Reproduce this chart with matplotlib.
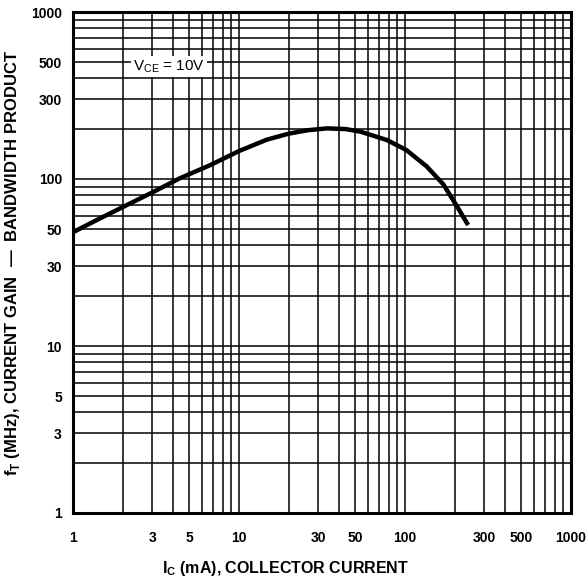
import numpy as np
import matplotlib.pyplot as plt
from matplotlib.ticker import FixedLocator, NullFormatter, FixedFormatter

plt.rcParams['font.family'] = ['Liberation Sans', 'DejaVu Sans']
plt.rcParams['mathtext.fontset'] = 'custom'
plt.rcParams['mathtext.rm'] = 'Liberation Sans'
plt.rcParams['mathtext.bf'] = 'Liberation Sans:bold'

# collector current (mA) and fT (MHz)
ic_ma = [1, 1.4, 2, 3, 4.4, 6.7, 10, 14.7, 20, 26, 34, 44, 54, 78, 102, 135, 170, 205, 240]
ft_mhz = [48, 57, 68, 83, 101, 121, 147, 172, 187, 196, 201, 199, 192, 171, 149, 119, 93, 69, 53]

tick_vals = [1, 3, 5, 10, 30, 50, 100, 300, 500, 1000]
tick_labels = ['1', '3', '5', '10', '30', '50', '100', '300', '500', '1000']

fig = plt.figure(figsize=(5.86, 5.82), dpi=100)
ax = fig.add_axes([73 / 586, 1 - 513 / 582, 498 / 586, 501 / 582])
ax.set_xscale('log')
ax.set_yscale('log')
ax.set_xlim(1, 1000)
ax.set_ylim(1, 1000)

# grid at every 1..9 position of each decade
grid = [m * 10 ** d for d in range(3) for m in range(1, 10)][1:] + [1000]
for g in grid:
    ax.axvline(g, color='black', lw=1.1, zorder=1)
    ax.axhline(g, color='black', lw=1.1, zorder=1)

ax.plot(ic_ma, ft_mhz, color='black', lw=3.2, solid_capstyle='butt',
        solid_joinstyle='round', zorder=3)

ax.text(2.3, 470, r'V$_\mathrm{CE}$ = 10V', fontsize=11, va='center', ha='left',
        bbox=dict(facecolor='white', edgecolor='none', pad=1.5), zorder=4)

for axis in (ax.xaxis, ax.yaxis):
    axis.set_major_locator(FixedLocator(tick_vals))
    axis.set_major_formatter(FixedFormatter(tick_labels))
    axis.set_minor_formatter(NullFormatter())
ax.tick_params(which='both', length=0)
ax.tick_params(axis='x', pad=13, labelsize=10)
ax.tick_params(axis='y', pad=8, labelsize=10)
for lab in ax.get_xticklabels() + ax.get_yticklabels():
    lab.set_fontweight('bold')

for s in ax.spines.values():
    s.set_linewidth(2.2)

ax.set_xlabel(r'I$_\mathbf{C}$ (mA), COLLECTOR CURRENT', fontsize=11.5, fontweight='bold')
ax.set_ylabel(r'f$_\mathbf{T}$ (MHz), CURRENT GAIN  —  BANDWIDTH PRODUCT', fontsize=12,
              fontweight='bold')
ax.xaxis.set_label_coords(0.426, -0.092)
ax.yaxis.set_label_coords(-0.102, 0.5)

fig.savefig('out.png', dpi=100)
